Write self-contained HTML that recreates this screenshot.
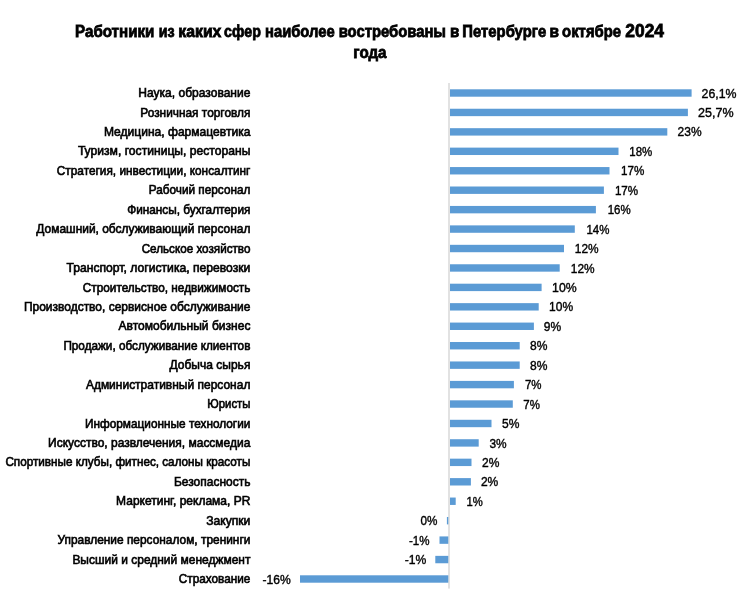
<!DOCTYPE html>
<html lang="ru"><head><meta charset="utf-8"><title>Работники из каких сфер наиболее востребованы в Петербурге</title>
<style>
html,body{margin:0;padding:0;background:#fff;}
svg{display:block}
text{font-family:"Liberation Sans",sans-serif;fill:#000}
.t{font-weight:bold;font-size:16.8px;stroke:#000;stroke-width:.8px}
.l{font-size:11.9px;stroke:#000;stroke-width:.6px}
.v{font-size:13.2px;stroke:#000;stroke-width:.4px}
.b{fill:#5b9bd5}
</style></head><body>
<svg width="750" height="600" viewBox="0 0 750 600">
<rect width="750" height="600" fill="#fff"/>
<rect x="448.3" y="83" width="1.4" height="505.6" fill="#d6d6d6"/>
<rect class="b" x="450.0" y="89.30" width="241.6" height="7.4"/>
<rect class="b" x="450.0" y="108.74" width="237.9" height="7.4"/>
<rect class="b" x="450.0" y="128.18" width="217.3" height="7.4"/>
<rect class="b" x="450.0" y="147.62" width="168.5" height="7.4"/>
<rect class="b" x="450.0" y="167.06" width="159.5" height="7.4"/>
<rect class="b" x="450.0" y="186.50" width="153.9" height="7.4"/>
<rect class="b" x="450.0" y="205.94" width="145.9" height="7.4"/>
<rect class="b" x="450.0" y="225.38" width="124.8" height="7.4"/>
<rect class="b" x="450.0" y="244.82" width="114.0" height="7.4"/>
<rect class="b" x="450.0" y="264.26" width="109.7" height="7.4"/>
<rect class="b" x="450.0" y="283.70" width="91.6" height="7.4"/>
<rect class="b" x="450.0" y="303.14" width="88.7" height="7.4"/>
<rect class="b" x="450.0" y="322.58" width="83.9" height="7.4"/>
<rect class="b" x="450.0" y="342.02" width="69.7" height="7.4"/>
<rect class="b" x="450.0" y="361.46" width="69.7" height="7.4"/>
<rect class="b" x="450.0" y="380.90" width="63.9" height="7.4"/>
<rect class="b" x="450.0" y="400.34" width="62.8" height="7.4"/>
<rect class="b" x="450.0" y="419.78" width="41.5" height="7.4"/>
<rect class="b" x="450.0" y="439.22" width="28.7" height="7.4"/>
<rect class="b" x="450.0" y="458.66" width="21.5" height="7.4"/>
<rect class="b" x="450.0" y="478.10" width="20.9" height="7.4"/>
<rect class="b" x="450.0" y="497.54" width="5.7" height="7.4"/>
<rect class="b" x="446.9" y="516.98" width="1.4" height="7.4"/>
<rect class="b" x="439.5" y="536.42" width="8.8" height="7.4"/>
<rect class="b" x="435.3" y="555.86" width="13.0" height="7.4"/>
<rect class="b" x="300.0" y="575.30" width="148.3" height="7.4"/>
<text class="t" y="36.5"><tspan id="w0" x="75.10" textLength="79.20" lengthAdjust="spacingAndGlyphs">Работники</tspan> <tspan id="w1" x="158.70" textLength="15.90" lengthAdjust="spacingAndGlyphs">из</tspan> <tspan id="w2" x="178.30" textLength="43.10" lengthAdjust="spacingAndGlyphs">каких</tspan> <tspan id="w3" x="224.10" textLength="36.80" lengthAdjust="spacingAndGlyphs">сфер</tspan> <tspan id="w4" x="265.10" textLength="69.50" lengthAdjust="spacingAndGlyphs">наиболее</tspan> <tspan id="w5" x="338.70" textLength="107.30" lengthAdjust="spacingAndGlyphs">востребованы</tspan> <tspan id="w6" x="449.90" textLength="9.30" lengthAdjust="spacingAndGlyphs">в</tspan> <tspan id="w7" x="462.30" textLength="83.90" lengthAdjust="spacingAndGlyphs">Петербурге</tspan> <tspan id="w8" x="549.60" textLength="9.50" lengthAdjust="spacingAndGlyphs">в</tspan> <tspan id="w9" x="562.10" textLength="59.00" lengthAdjust="spacingAndGlyphs">октябре</tspan> <tspan id="w10" x="625.30" textLength="38.70" lengthAdjust="spacingAndGlyphs" font-size="18">2024</tspan></text>
<text id="t2" class="t" x="353.30" y="58.10" textLength="33.20" lengthAdjust="spacingAndGlyphs">года</text>
<text id="l0" class="l" x="138.30" y="97.10" textLength="112.10" lengthAdjust="spacingAndGlyphs">Наука, образование</text>
<text id="v0" class="v" x="701.60" y="97.60" textLength="35.00" lengthAdjust="spacingAndGlyphs">26,1%</text>
<text id="l1" class="l" x="140.30" y="116.54" textLength="110.10" lengthAdjust="spacingAndGlyphs">Розничная торговля</text>
<text id="v1" class="v" x="698.10" y="117.04" textLength="35.50" lengthAdjust="spacingAndGlyphs">25,7%</text>
<text id="l2" class="l" x="103.90" y="135.98" textLength="146.50" lengthAdjust="spacingAndGlyphs">Медицина, фармацевтика</text>
<text id="v2" class="v" x="677.60" y="136.48" textLength="24.00" lengthAdjust="spacingAndGlyphs">23%</text>
<text id="l3" class="l" x="77.90" y="155.42" textLength="172.50" lengthAdjust="spacingAndGlyphs">Туризм, гостиницы, рестораны</text>
<text id="v3" class="v" x="629.30" y="155.92" textLength="23.00" lengthAdjust="spacingAndGlyphs">18%</text>
<text id="l4" class="l" x="56.80" y="174.86" textLength="193.60" lengthAdjust="spacingAndGlyphs">Стратегия, инвестиции, консалтинг</text>
<text id="v4" class="v" x="621.00" y="175.36" textLength="23.30" lengthAdjust="spacingAndGlyphs">17%</text>
<text id="l5" class="l" x="148.70" y="194.30" textLength="101.70" lengthAdjust="spacingAndGlyphs">Рабочий персонал</text>
<text id="v5" class="v" x="614.90" y="194.80" textLength="23.30" lengthAdjust="spacingAndGlyphs">17%</text>
<text id="l6" class="l" x="127.20" y="213.74" textLength="123.20" lengthAdjust="spacingAndGlyphs">Финансы, бухгалтерия</text>
<text id="v6" class="v" x="607.70" y="214.24" textLength="23.00" lengthAdjust="spacingAndGlyphs">16%</text>
<text id="l7" class="l" x="36.30" y="233.18" textLength="214.10" lengthAdjust="spacingAndGlyphs">Домашний, обслуживающий персонал</text>
<text id="v7" class="v" x="586.40" y="233.68" textLength="23.00" lengthAdjust="spacingAndGlyphs">14%</text>
<text id="l8" class="l" x="141.70" y="252.62" textLength="108.70" lengthAdjust="spacingAndGlyphs">Сельское хозяйство</text>
<text id="v8" class="v" x="574.80" y="253.12" textLength="23.80" lengthAdjust="spacingAndGlyphs">12%</text>
<text id="l9" class="l" x="66.50" y="272.06" textLength="183.90" lengthAdjust="spacingAndGlyphs">Транспорт, логистика, перевозки</text>
<text id="v9" class="v" x="570.80" y="272.56" textLength="23.80" lengthAdjust="spacingAndGlyphs">12%</text>
<text id="l10" class="l" x="82.80" y="291.50" textLength="167.60" lengthAdjust="spacingAndGlyphs">Строительство, недвижимость</text>
<text id="v10" class="v" x="552.10" y="292.00" textLength="24.60" lengthAdjust="spacingAndGlyphs">10%</text>
<text id="l11" class="l" x="23.90" y="310.94" textLength="226.50" lengthAdjust="spacingAndGlyphs">Производство, сервисное обслуживание</text>
<text id="v11" class="v" x="549.10" y="311.44" textLength="24.10" lengthAdjust="spacingAndGlyphs">10%</text>
<text id="l12" class="l" x="118.50" y="330.38" textLength="131.90" lengthAdjust="spacingAndGlyphs">Автомобильный бизнес</text>
<text id="v12" class="v" x="543.80" y="330.88" textLength="17.40" lengthAdjust="spacingAndGlyphs">9%</text>
<text id="l13" class="l" x="63.40" y="349.82" textLength="187.00" lengthAdjust="spacingAndGlyphs">Продажи, обслуживание клиентов</text>
<text id="v13" class="v" x="530.00" y="350.32" textLength="17.40" lengthAdjust="spacingAndGlyphs">8%</text>
<text id="l14" class="l" x="169.50" y="369.26" textLength="80.90" lengthAdjust="spacingAndGlyphs">Добыча сырья</text>
<text id="v14" class="v" x="530.00" y="369.76" textLength="17.40" lengthAdjust="spacingAndGlyphs">8%</text>
<text id="l15" class="l" x="85.90" y="388.70" textLength="164.50" lengthAdjust="spacingAndGlyphs">Административный персонал</text>
<text id="v15" class="v" x="524.90" y="389.20" textLength="16.60" lengthAdjust="spacingAndGlyphs">7%</text>
<text id="l16" class="l" x="207.30" y="408.14" textLength="43.10" lengthAdjust="spacingAndGlyphs">Юристы</text>
<text id="v16" class="v" x="523.30" y="408.64" textLength="16.60" lengthAdjust="spacingAndGlyphs">7%</text>
<text id="l17" class="l" x="84.90" y="427.58" textLength="165.50" lengthAdjust="spacingAndGlyphs">Информационные технологии</text>
<text id="v17" class="v" x="502.00" y="428.08" textLength="17.40" lengthAdjust="spacingAndGlyphs">5%</text>
<text id="l18" class="l" x="48.10" y="447.02" textLength="202.30" lengthAdjust="spacingAndGlyphs">Искусство, развлечения, массмедиа</text>
<text id="v18" class="v" x="489.40" y="447.52" textLength="17.20" lengthAdjust="spacingAndGlyphs">3%</text>
<text id="l19" class="l" x="5.40" y="466.46" textLength="245.00" lengthAdjust="spacingAndGlyphs">Спортивные клубы, фитнес, салоны красоты</text>
<text id="v19" class="v" x="482.00" y="466.96" textLength="17.40" lengthAdjust="spacingAndGlyphs">2%</text>
<text id="l20" class="l" x="174.00" y="485.90" textLength="76.40" lengthAdjust="spacingAndGlyphs">Безопасность</text>
<text id="v20" class="v" x="480.90" y="486.40" textLength="17.40" lengthAdjust="spacingAndGlyphs">2%</text>
<text id="l21" class="l" x="116.10" y="505.34" textLength="134.30" lengthAdjust="spacingAndGlyphs">Маркетинг, реклама, PR</text>
<text id="v21" class="v" x="466.50" y="505.84" textLength="16.30" lengthAdjust="spacingAndGlyphs">1%</text>
<text id="l22" class="l" x="206.20" y="524.78" textLength="44.20" lengthAdjust="spacingAndGlyphs">Закупки</text>
<text id="v22" class="v" x="420.60" y="525.28" textLength="16.90" lengthAdjust="spacingAndGlyphs">0%</text>
<text id="l23" class="l" x="57.50" y="544.22" textLength="192.90" lengthAdjust="spacingAndGlyphs">Управление персоналом, тренинги</text>
<text id="v23" class="v" x="408.90" y="544.72" textLength="20.60" lengthAdjust="spacingAndGlyphs">-1%</text>
<text id="l24" class="l" x="72.40" y="563.66" textLength="178.00" lengthAdjust="spacingAndGlyphs">Высший и средний менеджмент</text>
<text id="v24" class="v" x="404.80" y="564.16" textLength="21.60" lengthAdjust="spacingAndGlyphs">-1%</text>
<text id="l25" class="l" x="178.80" y="583.10" textLength="71.60" lengthAdjust="spacingAndGlyphs">Страхование</text>
<text id="v25" class="v" x="262.40" y="583.60" textLength="28.30" lengthAdjust="spacingAndGlyphs">-16%</text>
</svg></body></html>
